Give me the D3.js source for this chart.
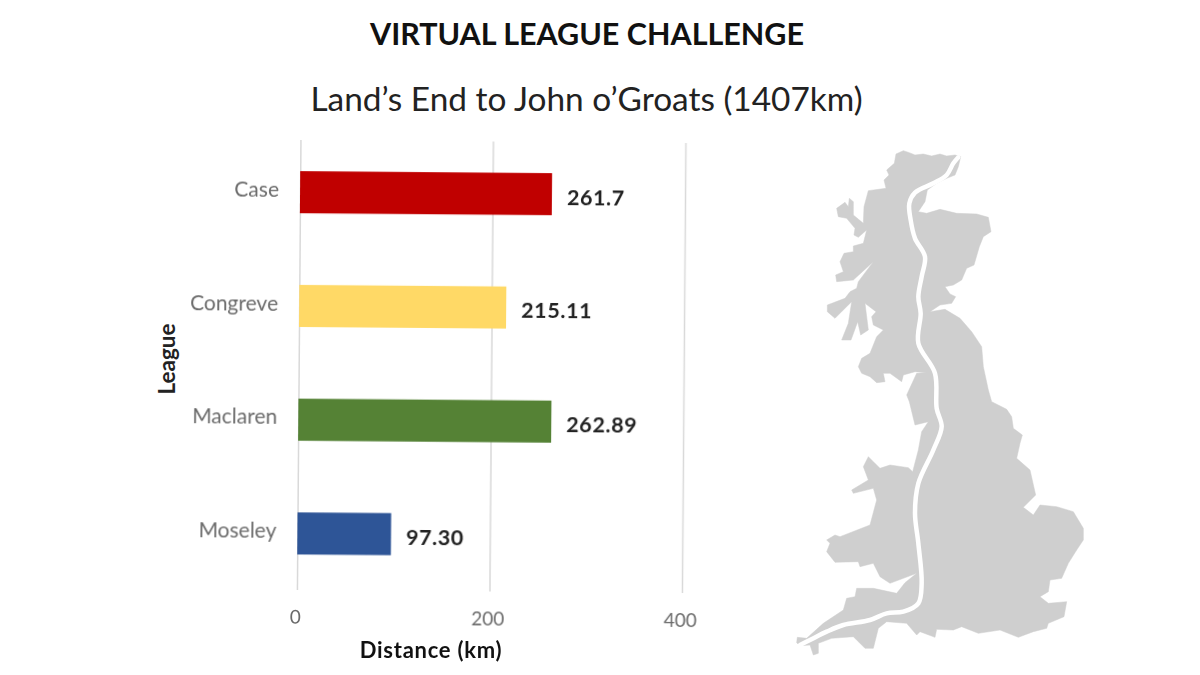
<!DOCTYPE html>
<html><head><meta charset="utf-8">
<script src="https://cdn.jsdelivr.net/npm/d3@7/dist/d3.min.js"></script>
<style>
html,body{margin:0;padding:0;background:#fff}
svg{display:block}
text{font-family:Lato,"Open Sans",sans-serif}
</style></head><body>
<svg id="c" width="1200" height="675"><defs><filter id="soft" x="-5%" y="-5%" width="110%" height="110%"><feGaussianBlur stdDeviation="0.45"/></filter></defs></svg>
<script>
const titleMain = "VIRTUAL LEAGUE CHALLENGE";
const titleSub = "Land’s End to John o’Groats (1407km)";
const leagues = ["Case","Congreve","Maclaren","Moseley"];
const distances = [261.7,215.11,262.89,97.30];
const valueLabels = ["261.7","215.11","262.89","97.30"];
const barColours = ["#c00000","#ffd966","#548235","#2f5597"];
const xTicks = [0,200,400];
const xTitle = "Distance (km)";
const yTitle = "League";

// Decorative map outline (zoom-crop units)
const mapNorth = [[340,32],[358,38],[375,45],[400,42],[425,48],[450,42],[470,48],[495,45],[512,50],[505,80],[495,105],[470,115],[440,130],[412,150],[405,185],[385,215],[410,220],[450,208],[500,220],[560,222],[595,232],[603,275],[580,290],[568,320],[552,375],[530,385],[515,420],[490,435],[465,440],[480,462],[497,470],[485,490],[450,495],[420,515],[465,508],[510,535],[545,575],[575,620],[580,680],[595,750],[605,785],[650,808]];
const mapSouth = [[665,50],[670,85],[697,105],[690,130],[680,175],[720,210],[737,285],[700,322],[730,345],[750,315],[800,320],[850,335],[880,385],[880,420],[860,450],[835,490],[815,535],[780,540],[775,575],[750,590],[775,610],[830,605],[822,650],[775,670],[770,685],[730,695],[685,712],[630,690],[565,700],[515,680],[490,690],[440,688],[435,712],[390,695],[380,705],[350,670],[290,665],[265,685],[250,745],[225,745],[190,710],[125,715],[85,730],[85,760],[70,765],[60,735],[30,737],[20,728],[22,712],[50,715],[100,670],[160,630],[170,595],[195,590],[200,565],[250,565],[320,580],[345,548],[380,520],[300,550],[270,530],[250,490],[210,500],[205,485],[135,487],[110,455],[120,430],[110,420],[135,405],[150,410],[240,375],[260,300],[250,265],[190,280],[185,270],[235,240],[220,200],[235,170],[250,185],[270,205],[300,195],[355,203],[368,215],[385,150],[395,95],[415,65],[375,75],[358,5]];
const mapNorthWest = [[350,765],[380,700],[410,698],[375,695],[340,705],[335,725],[300,700],[280,700],[285,725],[260,728],[240,710],[215,700],[205,680],[215,655],[240,640],[260,590],[280,570],[250,555],[245,530],[258,515],[225,490],[235,570],[212,585],[203,545],[183,600],[155,600],[175,550],[185,485],[135,535],[112,515],[112,495],[165,475],[180,455],[200,445],[205,425],[250,365],[190,420],[140,425],[137,405],[160,395],[150,365],[162,340],[190,335],[190,318],[220,310],[230,270],[205,292],[192,285],[195,265],[170,235],[145,230],[140,205],[165,187],[175,200],[178,175],[190,185],[190,225],[220,250],[222,200],[235,152],[288,145],[282,120],[297,105],[290,90],[313,70],[318,42]];
const routeNorth = [[505,52],[490,70],[470,105],[430,130],[375,158],[358,190],[362,240],[375,295],[405,350],[395,410],[385,470],[392,520],[385,610],[435,700],[440,805]];
const routeSouth = [[455,80],[430,150],[385,250],[375,340],[385,430],[395,550],[385,610],[340,635],[290,640],[240,660],[160,675],[110,695],[60,720],[30,735]];

const svg = d3.select("#c");
const inkGrey = "#6b6b6b";

svg.append("text").attr("x",587).attr("y",45).attr("text-anchor","middle")
  .attr("font-size",30.5).attr("font-weight",700).attr("fill","#111").text(titleMain);
svg.append("text").attr("x",586.5).attr("y",110.5).attr("text-anchor","middle")
  .attr("font-size",33.4).attr("fill","#222").text(titleSub);

// Chart, very slightly rotated as in the reference
const soft = svg.append("g").attr("filter","url(#soft)");
const g = soft.append("g").attr("transform","translate(298.7,365) rotate(0.45)");
const x = d3.scaleLinear().domain([0,400]).range([0,385]);
const y = d3.scaleBand().domain(leagues).range([-229.7,225.3]).paddingInner(0.63).paddingOuter(0.315);

const gridAxis = d3.axisBottom(x).tickValues(xTicks).tickSize(-450).tickFormat("");
const grid = g.append("g").attr("transform","translate(0,225)").call(gridAxis);
grid.select(".domain").remove();
grid.selectAll("line").attr("stroke","#d9d9d9").attr("stroke-width",1.5);

const xAxis = d3.axisBottom(x).tickValues(xTicks).tickSize(0).tickPadding(0);
const xg = g.append("g").attr("transform","translate(0,245)").call(xAxis);
xg.select(".domain").remove();
xg.selectAll("text").attr("font-size",19).attr("fill",inkGrey).attr("font-family","Lato").attr("dy","0.71em").attr("dx",-2);

const yAxis = d3.axisLeft(y).tickSize(0).tickPadding(21);
const yg = g.append("g").call(yAxis);
yg.select(".domain").remove();
yg.selectAll("text").attr("font-size",21).attr("fill",inkGrey).attr("font-family","Lato").attr("dy","0.22em");

g.selectAll("rect.bar").data(leagues).join("rect").attr("class","bar")
  .attr("x",0).attr("y",d=>y(d)).attr("height",y.bandwidth())
  .attr("width",(d,i)=>x(distances[i])).attr("fill",(d,i)=>barColours[i]);

g.selectAll("text.val").data(leagues).join("text").attr("class","val")
  .attr("x",(d,i)=>x(distances[i])+15).attr("y",d=>y(d)+y.bandwidth()/2+10.5)
  .attr("font-size",21.5).attr("font-weight",700).attr("letter-spacing",0.6).attr("fill","#222")
  .text((d,i)=>valueLabels[i]);

svg.append("text").attr("x",431).attr("y",658).attr("text-anchor","middle")
  .attr("font-size",22).attr("font-weight",700).attr("letter-spacing",0.75).attr("fill","#111").text(xTitle);
svg.append("text").attr("transform","translate(175,359) rotate(-90)").attr("text-anchor","middle")
  .attr("font-size",22.5).attr("font-weight",700).attr("fill","#222").text(yTitle);

// Map
const fromNorth = p=>[790+p[0]/3,140+p[1]/3];
const fromSouth = p=>[790+p[0]/3,400+p[1]/3];
const outline = [...mapNorth.map(fromNorth),...mapSouth.map(fromSouth),...mapNorthWest.map(fromNorth)];
soft.append("path").attr("d",d3.line().curve(d3.curveLinearClosed)(outline))
  .attr("fill","#cfcfcf").attr("stroke","#cfcfcf").attr("stroke-width",0.5).attr("stroke-linejoin","round");
const route = [...routeNorth.map(fromNorth),...routeSouth.map(fromSouth)];
soft.append("path").attr("d",d3.line().curve(d3.curveCatmullRom)(route))
  .attr("fill","none").attr("stroke","#fff").attr("stroke-width",4.5).attr("stroke-linecap","round");
</script>
</body></html>
